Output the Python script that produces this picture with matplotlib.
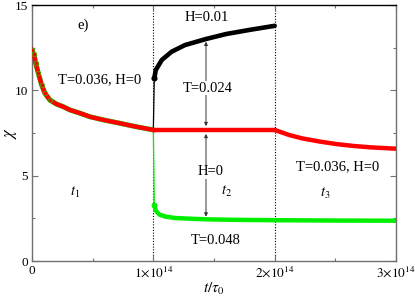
import matplotlib
matplotlib.use("Agg")
import matplotlib.pyplot as plt
import numpy as np

plt.rcParams['font.family'] = ['Liberation Serif', 'DejaVu Serif']
plt.rcParams['mathtext.fontset'] = 'stix'

# time in units of 1e14 tau_0
red_t1 = [0.0, 0.016, 0.03, 0.052, 0.08, 0.107, 0.148, 0.2, 0.258, 0.313, 0.4, 0.478, 0.6, 0.725, 0.85, 1.0]
red_c1 = [12.36, 12.1, 11.6, 11.0, 10.3, 9.82, 9.43, 9.2, 9.04, 8.85, 8.65, 8.45, 8.25, 8.07, 7.88, 7.68]
red_t2 = [1.0, 1.5, 2.0]
red_c2 = [7.68, 7.68, 7.68]
red_t3 = [2.0, 2.04, 2.12, 2.23, 2.37, 2.51, 2.65, 2.79, 3.0]
red_c3 = [7.68, 7.58, 7.38, 7.18, 7.0, 6.85, 6.74, 6.66, 6.58]

black_t = [1.008, 1.02, 1.07, 1.15, 1.26, 1.43, 1.6, 1.8, 2.0]
black_c = [10.7, 11.19, 11.78, 12.26, 12.65, 13.0, 13.3, 13.55, 13.78]

green_t2 = [1.008, 1.02, 1.05, 1.1, 1.18, 1.3, 1.44, 1.7, 2.0, 2.5, 3.0]
green_c2 = [3.28, 2.95, 2.72, 2.6, 2.52, 2.48, 2.44, 2.41, 2.39, 2.37, 2.36]

x_ticks = [0, 1, 2, 3]
x_ticklabels = ['0', r'$1{\times}10^{14}$', r'$2{\times}10^{14}$', r'$3{\times}10^{14}$']
y_ticks = [0, 5, 10, 15]

fig = plt.figure(figsize=(4.15, 3.0), dpi=100)
ax = fig.add_axes([32/415, 1-261/300, (396-32)/415, (261-5)/300])

red = '#ff0000'
green = '#00ee00'

for xv in [1, 2]:
    ax.axvline(xv, color='black', ls=(0, (1, 1.5)), lw=0.8, zorder=1)

# green curve (underneath red in first interval)
ax.plot(red_t1, red_c1, color=green, lw=3.6, zorder=2, solid_capstyle='round')
ax.plot([red_t1[-1], green_t2[0]], [red_c1[-1], green_c2[0]], color=green, lw=0.9, zorder=2)
ax.plot(green_t2, green_c2, color=green, lw=3.2, zorder=2, solid_capstyle='round')
ax.plot(green_t2[:1], green_c2[:1], 'o', color=green, ms=3.2, zorder=2)

# black curve
ax.plot([red_t2[0], black_t[0]], [red_c2[0], black_c[0]], color='black', lw=0.9, zorder=3)
ax.plot(black_t, black_c, color='black', lw=3.3, zorder=3, solid_capstyle='round')
ax.plot(black_t[:1], black_c[:1], 'o', color='black', ms=3.4, zorder=3)

# red curve
ax.plot(red_t1, red_c1, color=red, lw=3.2, zorder=4, marker='o', ms=3.4,
        mec=green, mew=0.4, mfc=red, markevery=slice(0, 7))
ax.plot(red_t2, red_c2, color=red, lw=3.2, zorder=4, solid_capstyle='round')
ax.plot(red_t3, red_c3, color=red, lw=3.2, zorder=4, solid_capstyle='round')

ax.set_xlim(0, 3)
ax.set_ylim(0, 15)
ax.set_xticks(x_ticks)
ax.set_xticklabels(x_ticklabels)
ax.set_yticks(y_ticks)
ax.set_xticks([0.5, 1.5, 2.5], minor=True)
ax.set_yticks([2.5, 7.5, 12.5], minor=True)
ax.tick_params(which='both', direction='in', top=True, right=True, labelsize=9.5, color='#707070')
ax.tick_params(which='major', length=4, width=0.8, pad=3)
ax.tick_params(which='minor', length=2.5, width=0.8)
for s in ['left', 'bottom', 'right']:
    ax.spines[s].set_color('#707070')
ax.spines['top'].set_color('black')
for s in ax.spines.values():
    s.set_linewidth(1.0)

fig.text(11/415, 1-133/300, r'$\chi$', fontsize=12, rotation=90, ha='center', va='center')
ax.set_xlabel(r'$t/\tau_0$', fontsize=11, labelpad=1)

fs = 10.5
ax.text(0.42, 13.83, 'e)', fontsize=fs, ha='center', va='center')
ax.text(0.56, 10.6, 'T=0.036, H=0', fontsize=fs, ha='center', va='center')
ax.text(1.443, 14.24, 'H=0.01', fontsize=fs, ha='center', va='center')
ax.text(1.515, 1.23, 'T=0.048', fontsize=fs, ha='center', va='center')
ax.text(2.518, 5.52, 'T=0.036, H=0', fontsize=fs, ha='center', va='center')
ax.text(0.354, 4.0, r'$t_1$', fontsize=fs, ha='center', va='center')
ax.text(1.605, 4.06, r'$t_2$', fontsize=fs, ha='center', va='center')
ax.text(2.415, 3.98, r'$t_3$', fontsize=fs, ha='center', va='center')

arrow_x = 1.434
ax.annotate('', xy=(arrow_x, 12.85), xytext=(arrow_x, 7.9),
            arrowprops=dict(arrowstyle='<|-|>', color='#333333', lw=0.7,
                            mutation_scale=5, shrinkA=0, shrinkB=0), zorder=5)
ax.annotate('', xy=(arrow_x, 7.45), xytext=(arrow_x, 2.6),
            arrowprops=dict(arrowstyle='<|-|>', color='#333333', lw=0.7,
                            mutation_scale=5, shrinkA=0, shrinkB=0), zorder=5)
ax.text(1.446, 10.13, 'T=0.024', fontsize=fs, ha='center', va='center', zorder=6,
        bbox=dict(facecolor='white', edgecolor='none', pad=0.5))
ax.text(1.474, 5.23, 'H=0', fontsize=fs, ha='center', va='center', zorder=6,
        bbox=dict(facecolor='white', edgecolor='none', pad=0.5))

fig.savefig('out.png', dpi=100)
